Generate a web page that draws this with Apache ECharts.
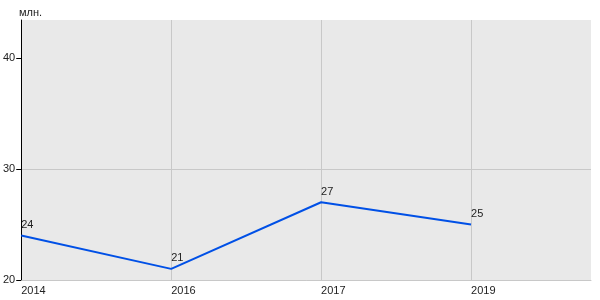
<!DOCTYPE html>
<html><head><meta charset="utf-8">
<script src="https://cdn.jsdelivr.net/npm/echarts@6/dist/echarts.min.js"></script>
<style>html,body{margin:0;padding:0;background:#fff}#c{width:600px;height:300px}</style>
</head><body><div id="c"></div>
<script>
const categories = ['2014', '2016', '2017', '2019'];
const values = [24, 21, 27, 25];
const yTicks = [20, 30, 40];
const unitLabel = 'млн.';

const chart = echarts.init(document.getElementById('c'), null, {renderer: 'canvas'});
const font = 'Liberation Sans, Arial, sans-serif';
chart.setOption({
  animation: false,
  textStyle: {fontFamily: font},
  title: {text: unitLabel, left: 14, top: 2, textStyle: {fontSize: 11, fontWeight: 'normal', color: '#222', fontFamily: font}},
  grid: {left: 20, right: 9, top: 20, bottom: 20, containLabel: false, show: true, backgroundColor: '#e9e9e9', borderWidth: 0},
  xAxis: {
    type: 'value', min: 0, max: 3.8, interval: 1,
    axisLine: {show: true, lineStyle: {color: '#c8c8c8', width: 1}},
    axisTick: {show: false},
    splitLine: {show: true, showMinLine: false, showMaxLine: false, lineStyle: {color: '#c8c8c8', width: 1}},
    axisLabel: {
      color: '#222', fontSize: 11, fontFamily: font, align: 'left', margin: 5,
      showMaxLabel: false,
      formatter: v => (Number.isInteger(v) && categories[v] !== undefined) ? categories[v] : ''
    }
  },
  yAxis: {
    type: 'value', min: 20, max: 43.4, interval: 10,
    axisLine: {show: true, lineStyle: {color: '#000', width: 1}},
    axisTick: {show: true, length: 5, lineStyle: {color: '#000'}, customValues: yTicks},
    splitLine: {show: true, showMinLine: false, showMaxLine: false, lineStyle: {color: '#c8c8c8', width: 1}},
    axisLabel: {color: '#222', fontSize: 11, fontFamily: font, margin: 6, customValues: yTicks}
  },
  series: [{
    type: 'line',
    data: values.map((v, i) => [i, v]),
    lineStyle: {color: '#0050e6', width: 2},
    itemStyle: {color: 'rgba(0,0,0,0)', borderWidth: 0},
    symbol: 'circle', symbolSize: 2, showSymbol: true,
    label: {show: true, position: 'top', align: 'left', distance: 4, color: '#222', fontSize: 11, fontFamily: font}
  }]
});
</script></body></html>
